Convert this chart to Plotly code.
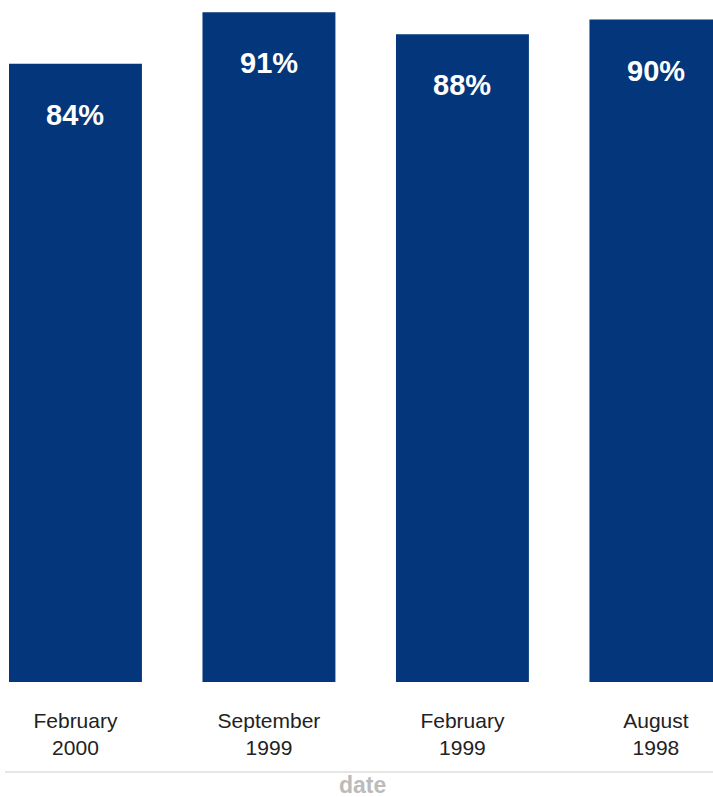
import plotly.graph_objects as go

# ===========================================
# Datos
# ===========================================
fechas = ["February<br>2000", "September<br>1999", "February<br>1999", "August<br>1998"]
valores = [84, 91, 88, 90]
etiquetas = ["84%", "91%", "88%", "90%"]

azul = "#03367a"

fig = go.Figure()
fig.add_trace(go.Bar(
    x=fechas,
    y=valores,
    marker_color=azul,
    marker_line_width=0,
    hoverinfo="skip",
))

# etiquetas blancas dentro de cada barra
for f, v, t in zip(fechas, valores, etiquetas):
    fig.add_annotation(
        x=f, y=v, text=f"<b>{t}</b>",
        showarrow=False, yanchor="middle", yshift=-51,
        font=dict(color="white", size=29, family="Liberation Sans"),
    )

# linea gris + titulo del eje
fig.add_shape(
    type="line", xref="paper", yref="paper",
    x0=0.007, x1=1, y0=-0.132, y1=-0.132,
    line=dict(color="#dddddd", width=1.5),
)
fig.add_annotation(
    xref="paper", yref="paper", x=0.509, y=-0.151,
    text="<b>date</b>", showarrow=False, yanchor="middle",
    font=dict(size=23, color="#bbbbbb", family="Liberation Sans"),
)

fig.update_layout(
    width=713, height=797,
    margin=dict(l=0, r=0, t=0, b=115),
    plot_bgcolor="white", paper_bgcolor="white",
    bargap=0.313,
    showlegend=False,
    font=dict(family="Liberation Sans", color="#222222"),
)
fig.update_xaxes(
    range=[-0.39, 3.295],
    showgrid=False, zeroline=False, showline=False,
    ticks="", tickfont=dict(size=21, color="#222222"),
    ticklabelstandoff=24,
)
fig.update_yaxes(
    range=[0, 92.66], visible=False,
)

# sin margen en el body para que la figura ocupe toda la ventana
fig.write_html(
    "out.html",
    config={"displayModeBar": False},
    post_script="document.body.style.margin='0';",
)
